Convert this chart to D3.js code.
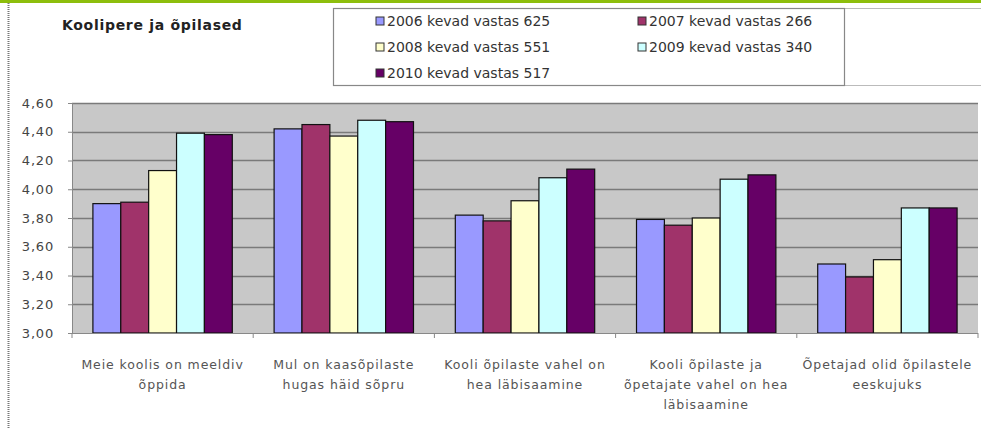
<!DOCTYPE html>
<html>
<head>
<meta charset="utf-8">
<script src="https://cdn.jsdelivr.net/npm/d3@7/dist/d3.min.js"></script>
<style>
  html, body { margin: 0; padding: 0; background: #fff; }
  svg { display: block; }
</style>
</head>
<body>
<svg id="chart" width="981" height="428"></svg>
<script>
const title = "Koolipere ja õpilased";
const categories = [
  ["Meie koolis on meeldiv", "õppida"],
  ["Mul on kaasõpilaste", "hugas häid sõpru"],
  ["Kooli õpilaste vahel on", "hea läbisaamine"],
  ["Kooli õpilaste ja", "õpetajate vahel on hea", "läbisaamine"],
  ["Õpetajad olid õpilastele", "eeskujuks"]
];
const seriesNames = [
  "2006 kevad vastas 625",
  "2007 kevad vastas 266",
  "2008 kevad vastas 551",
  "2009 kevad vastas 340",
  "2010 kevad vastas 517"
];
const s2006 = [3.90, 4.42, 3.82, 3.79, 3.48];
const s2007 = [3.91, 4.45, 3.78, 3.75, 3.39];
const s2008 = [4.13, 4.37, 3.92, 3.80, 3.51];
const s2009 = [4.39, 4.48, 4.08, 4.07, 3.87];
const s2010 = [4.38, 4.47, 4.14, 4.10, 3.87];
const yTicks = [3.00, 3.20, 3.40, 3.60, 3.80, 4.00, 4.20, 4.40, 4.60];
const colors = ["#9999FF", "#A0336A", "#FFFFCC", "#CCFFFF", "#660066"];

const series = [s2006, s2007, s2008, s2009, s2010];

const svg = d3.select("#chart");
const W = 981, H = 428;
const plot = { left: 72, right: 978, top: 103, bottom: 333 };

// top green strip
svg.append("rect").attr("x", 0).attr("y", 0).attr("width", W).attr("height", 3).attr("fill", "#8DBE0C");
// left dotted border
svg.append("line").attr("x1", 8.5).attr("x2", 8.5).attr("y1", 3).attr("y2", H)
  .attr("stroke", "#777").attr("stroke-width", 2).attr("stroke-dasharray", "1,1");

// faint chart-area lines
svg.append("line").attr("x1", 333).attr("x2", W).attr("y1", 8.5).attr("y2", 8.5).attr("stroke", "#bbb");
svg.append("line").attr("x1", 845).attr("x2", W).attr("y1", 85.5).attr("y2", 85.5).attr("stroke", "#bbb");

// title
svg.append("text").attr("x", 62).attr("y", 30)
  .attr("font-family", "DejaVu Sans").attr("font-weight", "bold").attr("font-size", 14)
  .attr("letter-spacing", 0.7)
  .attr("fill", "#222").text(title);

// legend
const lg = svg.append("g");
lg.append("rect").attr("x", 333.5).attr("y", 8.5).attr("width", 511).attr("height", 77)
  .attr("fill", "#fff").attr("stroke", "#888").attr("stroke-width", 1.2);
const legPos = [[380, 21], [642, 21], [380, 47], [642, 47], [380, 73]];
seriesNames.forEach((name, i) => {
  const [lx, ly] = legPos[i];
  lg.append("rect").attr("x", lx - 4).attr("y", ly - 4).attr("width", 8).attr("height", 8)
    .attr("fill", colors[i]).attr("stroke", "#333").attr("stroke-width", 1);
  lg.append("text").attr("x", lx + 7).attr("y", ly + 5)
    .attr("font-family", "DejaVu Sans").attr("font-size", 14).attr("fill", "#333")
    .text(name);
});

// scales
const x0 = d3.scaleBand().domain(d3.range(categories.length))
  .range([plot.left, plot.right]).paddingInner(0).paddingOuter(0);
const x1 = d3.scaleBand().domain(d3.range(series.length))
  .range([0, x0.bandwidth()]).paddingInner(0).paddingOuter(0.75);
const y = d3.scaleLinear().domain([3.0, 4.6]).range([plot.bottom, plot.top]);

// plot background
svg.append("rect").attr("x", plot.left).attr("y", plot.top)
  .attr("width", plot.right - plot.left).attr("height", plot.bottom - plot.top)
  .attr("fill", "#C8C8C8");

// gridlines
svg.append("g").selectAll("line").data(yTicks.filter(t => t > 3.0)).join("line")
  .attr("x1", plot.left).attr("x2", plot.right)
  .attr("y1", d => Math.round(y(d)) + 0.5).attr("y2", d => Math.round(y(d)) + 0.5)
  .attr("stroke", "#7a7a7a").attr("stroke-width", 1.3);

// bars
const groups = svg.append("g").selectAll("g").data(categories).join("g")
  .attr("transform", (d, i) => `translate(${x0(i)},0)`);
groups.selectAll("rect").data((d, ci) => series.map((s, si) => ({ si, v: s[ci] }))).join("rect")
  .attr("x", d => x1(d.si))
  .attr("y", d => y(d.v))
  .attr("width", x1.bandwidth())
  .attr("height", d => y(3.0) - y(d.v))
  .attr("fill", d => colors[d.si])
  .attr("stroke", "#111").attr("stroke-width", 1.2);

// y axis
const yAxis = d3.axisLeft(y).tickValues(yTicks).tickSize(4)
  .tickFormat(d => d3.format(".2f")(d).replace(".", ","));
const ya = svg.append("g").attr("transform", `translate(${plot.left},0)`).call(yAxis);
ya.select(".domain").attr("stroke", "#888");
ya.selectAll(".tick line").attr("stroke", "#888");
ya.selectAll(".tick text").attr("x", -18)
  .attr("font-family", "DejaVu Sans").attr("font-size", 13).attr("letter-spacing", 0.8)
  .attr("fill", "#444");

// x axis
const xa = svg.append("g").attr("transform", `translate(0,${plot.bottom})`);
xa.append("line").attr("x1", plot.left).attr("x2", plot.right).attr("y1", 0.5).attr("y2", 0.5)
  .attr("stroke", "#888");
xa.selectAll("line.t").data(d3.range(0, categories.length + 1)).join("line").attr("class", "t")
  .attr("x1", i => plot.left + i * x0.step()).attr("x2", i => plot.left + i * x0.step())
  .attr("y1", 0).attr("y2", 5).attr("stroke", "#888");

const labels = svg.append("g").selectAll("text").data(categories).join("text")
  .attr("x", (d, i) => x0(i) + x0.bandwidth() / 2)
  .attr("y", 369)
  .attr("text-anchor", "middle")
  .attr("font-family", "DejaVu Sans").attr("font-size", 12.5).attr("letter-spacing", 0.9)
  .attr("fill", "#555");
labels.selectAll("tspan").data(d => d).join("tspan")
  .attr("x", function () { return d3.select(this.parentNode).attr("x"); })
  .attr("dy", (d, i) => i === 0 ? 0 : 20)
  .text(d => d);
</script>
</body>
</html>
